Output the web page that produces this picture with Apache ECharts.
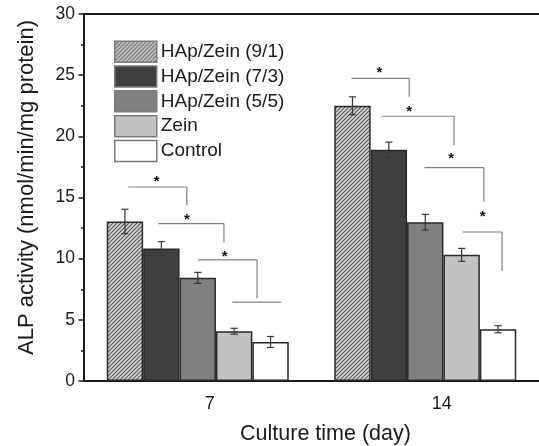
<!DOCTYPE html>
<html>
<head>
<meta charset="utf-8">
<script src="https://cdn.jsdelivr.net/npm/echarts@6/dist/echarts.min.js"></script>
<style>html,body{margin:0;padding:0;background:#fff;}#c{width:539px;height:446px;}</style>
</head>
<body>
<div id="c"></div>
<script>
// ---- data ----
const categories = ['7', '14'];
const seriesNames = ['HAp/Zein (9/1)', 'HAp/Zein (7/3)', 'HAp/Zein (5/5)', 'Zein', 'Control'];
const hap91 = [13.04, 22.5];
const hap73 = [10.83, 18.9];
const hap55 = [8.43, 12.98];
const zein = [4.07, 10.31];
const control = [3.19, 4.23];
const hap91Err = [1.0, 0.73];
const hap73Err = [0.56, 0.63];
const hap55Err = [0.45, 0.64];
const zeinErr = [0.24, 0.53];
const controlErr = [0.45, 0.29];
const yTicks = [0, 5, 10, 15, 20, 25, 30];

// significance brackets (group index, offsets in bar widths from group centre, y in data units)
const sigGroup = [0, 0, 0, 0, 1, 1, 1, 1];
const sigFrom = [-1.91, -1.08, 0.0, 0.95, -2.03, -1.20, -0.02, 1.02];
const sigTo = [-0.30, 0.72, 1.63, 2.30, -0.44, 0.79, 1.61, 2.11];
const sigTop = [15.86, 12.87, 9.9, 6.44, 24.74, 21.64, 17.44, 12.18];
const sigDrop = [14.36, 11.35, 6.77, null, 23.24, 19.29, 14.66, 9.02];
const sigStarX = [-1.13, -0.30, 0.74, null, -1.26, -0.44, 0.71, 1.58];
const sigStarY = [16.5, 13.39, 10.39, null, 25.42, 22.21, 18.42, 13.68];

// ---- build ----
const values = [hap91, hap73, hap55, zein, control];
const errs = [hap91Err, hap73Err, hap55Err, zeinErr, controlErr];

function hatch() {
  const c = document.createElement('canvas');
  c.width = 4; c.height = 4;
  const g = c.getContext('2d');
  g.fillStyle = '#d4d4d4';
  g.fillRect(0, 0, 4, 4);
  g.strokeStyle = '#5e5e5e';
  g.lineWidth = 1.2;
  g.beginPath();
  g.moveTo(-1, 5); g.lineTo(5, -1);
  g.moveTo(-1, 1); g.lineTo(1, -1);
  g.moveTo(3, 5); g.lineTo(5, 3);
  g.stroke();
  return c;
}
const fills = [{ image: hatch(), repeat: 'repeat' }, '#3f3f3f', '#808080', '#c2c2c2', '#ffffff'];
const FONT = '"Liberation Sans", Arial, sans-serif';
const BAR_FRAC = 0.8;

const barSeries = seriesNames.map((n, i) => ({
  name: n,
  type: 'bar',
  data: values[i],
  barGap: '0%',
  barCategoryGap: '20%',
  itemStyle: { color: fills[i], borderColor: '#2a2a2a', borderWidth: 1.5 },
  emphasis: { disabled: true },
  animation: false,
  z: 2
}));

const errData = [];
values.forEach((arr, s) => arr.forEach((v, g) => errData.push([g, v, errs[s][g], s])));

const errSeries = {
  type: 'custom',
  data: errData,
  z: 5,
  silent: true,
  animation: false,
  renderItem: function (params, api) {
    const g = api.value(0), v = api.value(1), e = api.value(2), s = api.value(3);
    const band = api.size([1, 0])[0];
    const bw = band * BAR_FRAC / 5;
    const top = api.coord([g, v + e]);
    const bot = api.coord([g, v - e]);
    const x = top[0] + (s - 2) * bw;
    const cap = 3.6;
    const st = { stroke: '#383838', lineWidth: 1.2 };
    return {
      type: 'group',
      children: [
        { type: 'line', shape: { x1: x, y1: top[1], x2: x, y2: bot[1] }, style: st },
        { type: 'line', shape: { x1: x - cap, y1: top[1], x2: x + cap, y2: top[1] }, style: st },
        { type: 'line', shape: { x1: x - cap, y1: bot[1], x2: x + cap, y2: bot[1] }, style: st }
      ]
    };
  }
};

const sigSeries = {
  type: 'custom',
  data: sigGroup.map((g, i) => [g, sigTop[i]]),
  z: 6,
  silent: true,
  animation: false,
  clip: false,
  renderItem: function (params, api) {
    const i = params.dataIndex;
    const g = api.value(0);
    const band = api.size([1, 0])[0];
    const bw = band * BAR_FRAC / 5;
    const c = api.coord([g, sigTop[i]]);
    const x1 = c[0] + sigFrom[i] * bw, x2 = c[0] + sigTo[i] * bw;
    const st = { stroke: '#808080', lineWidth: 1.2 };
    const ch = [{ type: 'line', shape: { x1: x1, y1: c[1], x2: x2, y2: c[1] }, style: st }];
    if (sigDrop[i] !== null) {
      const d = api.coord([g, sigDrop[i]]);
      ch.push({ type: 'line', shape: { x1: x2, y1: c[1], x2: x2, y2: d[1] }, style: st });
    }
    if (sigStarX[i] !== null) {
      const sp = api.coord([g, sigStarY[i]]);
      ch.push({ type: 'text', x: c[0] + sigStarX[i] * bw, y: sp[1] + 3,
        style: { text: '*', fill: '#111', font: 'bold 15px ' + FONT, align: 'center', verticalAlign: 'middle' } });
    }
    return { type: 'group', children: ch };
  }
};

const option = {
  backgroundColor: '#fff',
  animation: false,
  grid: { left: 84, right: 0, top: 14, bottom: 65, containLabel: false, outerBoundsMode: 'none' },
  legend: {
    data: seriesNames,
    orient: 'vertical',
    left: 114,
    top: 40.5,
    itemWidth: 42,
    itemHeight: 21,
    itemGap: 2.3,
    padding: 0,
    icon: 'rect',
    itemStyle: { borderColor: '#7a7a7a', borderWidth: 1.5 },
    textStyle: { fontFamily: FONT, fontSize: 19, color: '#1a1a1a', padding: [0, 0, 0, -1] },
    selectedMode: false
  },
  xAxis: [{
    type: 'category',
    data: categories,
    position: 'bottom',
    axisLine: { show: true, lineStyle: { color: '#1a1a1a', width: 2 } },
    axisTick: { show: false },
    axisLabel: {
      margin: 14,
      fontFamily: FONT, fontSize: 18, color: '#1a1a1a',
      formatter: function (v, idx) { return idx === 0 ? '{a|' + v + '}' : '{b|' + v + '}'; },
      rich: {
        a: { fontFamily: FONT, fontSize: 18, color: '#1a1a1a', padding: [0, 0, 0, 24] },
        b: { fontFamily: FONT, fontSize: 18, color: '#1a1a1a', padding: [0, 0, 0, 33] }
      }
    },
    name: 'Culture time (day)',
    nameLocation: 'middle',
    nameGap: 42,
    nameTextStyle: { fontFamily: FONT, fontSize: 21.5, color: '#1a1a1a', padding: [0, 0, 0, 28] },
    splitLine: { show: false }
  }, {
    type: 'category',
    data: categories,
    position: 'top',
    axisLine: { show: true, lineStyle: { color: '#1a1a1a', width: 2 } },
    axisTick: { show: false },
    axisLabel: { show: false },
    splitLine: { show: false }
  }],
  yAxis: {
    type: 'value',
    min: 0, max: 30, interval: 5,
    axisLine: { show: true, lineStyle: { color: '#1a1a1a', width: 2 } },
    axisTick: { show: true, inside: false, length: 5.5, lineStyle: { color: '#1a1a1a', width: 1.5 } },
    minorTick: { show: true, splitNumber: 2, length: 3, lineStyle: { color: '#1a1a1a', width: 1.5 } },
    axisLabel: {
      margin: 9, fontFamily: FONT, fontSize: 17.5, color: '#1a1a1a',
      formatter: function (v) { return yTicks.indexOf(v) >= 0 ? String(v) : ''; }
    },
    splitLine: { show: false },
    name: 'ALP activity (nmol/min/mg protein)',
    nameLocation: 'middle',
    nameGap: 46,
    nameTextStyle: { fontFamily: FONT, fontSize: 22, color: '#1a1a1a', padding: [0, 0, 0, 20] }
  },
  series: barSeries.concat([errSeries, sigSeries])
};

const chart = echarts.init(document.getElementById('c'), null, { renderer: 'canvas' });
chart.setOption(option);
</script>
</body>
</html>
